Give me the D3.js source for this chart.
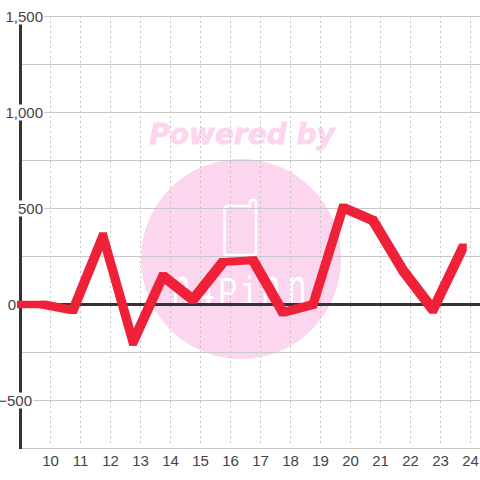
<!DOCTYPE html>
<meta charset="utf-8">
<style>
  body { margin: 0; background: #fff; }
  text { font-family: "Liberation Sans", sans-serif; }
  .label { font-size: 15px; fill: #444; }
  .grid-h { stroke: #c8c8c8; stroke-width: 1px; }
  .grid-v { stroke: #c4c4c4; stroke-width: 1px; stroke-dasharray: 2 3; }
  .axis-line { stroke: #333; stroke-width: 3px; fill: none; }
</style>
<svg width="480" height="480"></svg>
<script src="https://d3js.org/d3.v7.min.js"></script>
<script>

  var hours = [9, 9.75, 10.75, 11.75, 12.75, 13.75, 14.75, 15.75, 16.75, 17.75, 18.75, 19.75, 20.75, 21.75, 22.75, 23.75];
  var values = [0, 0, -30, 355, -195, 148, 25, 222, 230, -42, 0, 505, 438, 177, -27, 298];
  var xTicks = [10, 11, 12, 13, 14, 15, 16, 17, 18, 19, 20, 21, 22, 23, 24];
  var yGrid = [1500, 1250, 1000, 750, 500, 250, -250, -500, -750];
  var yLabels = [1500, 1000, 500, 0, -500];
  var logoGlyphs = ["n", "4", "P", "i", "n", "n"];

  var svg = d3.select("svg");

  var x = d3.scaleLinear().domain([9, 24]).range([20.5, 470.5]);
  var y = d3.scaleLinear().domain([1500, -750]).range([16.5, 448.5]);
  var fmt = d3.format(",");

  // watermark goes under everything
  var mark = svg.append("g");
  mark.append("circle").attr("cx", 241).attr("cy", 259).attr("r", 100).attr("fill", "#fcd5ee");
  mark.append("text")
    .attr("x", 242).attr("y", 144)
    .attr("text-anchor", "middle")
    .style("font", "italic bold 28px 'DejaVu Sans'")
    .attr("fill", "#fcd5ee")
    .attr("stroke", "#fcd5ee")
    .attr("stroke-width", 0.8)
    .text("Powered by");
  mark.append("path")
    .attr("d", "M224.5 253V210q0-4 4-4H250V202q0-2 3-2t3 2V253q0 2-3 2H227q-2.5 0-2.5-2Z")
    .attr("fill", "none").attr("stroke", "#fff").attr("stroke-width", 2.5);

  var logoX = [181, 205, 228, 249, 271, 297];
  mark.selectAll(".logo").data(logoGlyphs).enter().append("text")
    .attr("class", "logo")
    .attr("transform", function (d, i) {
      return "translate(" + logoX[i] + ",305) scale(1.1," + (d == "n" ? 1.8 : 1.35) + ")";
    })
    .attr("text-anchor", "middle")
    .style("font", "30px 'Liberation Mono'")
    .attr("fill", "#fff")
    .text(function (d) { return d; });

  svg.selectAll(".grid-v").data(xTicks).enter().append("line")
    .attr("class", "grid-v")
    .attr("x1", function (d) { return x(d); }).attr("x2", function (d) { return x(d); })
    .attr("y1", 16).attr("y2", 446);

  svg.selectAll(".grid-h").data(yGrid).enter().append("line")
    .attr("class", "grid-h")
    .attr("x1", 20).attr("x2", 480)
    .attr("y1", function (d) { return y(d); }).attr("y2", function (d) { return y(d); });

  svg.append("line").attr("class", "axis-line")
    .attr("x1", 20.5).attr("x2", 20.5).attr("y1", 24).attr("y2", 449);
  svg.append("line").attr("class", "axis-line")
    .attr("x1", 20).attr("x2", 480).attr("y1", y(0)).attr("y2", y(0));

  // labels sit on white boxes that cut the axis
  var labelRight = { "1500": 44, "1000": 44, "500": 44, "0": 17, "-500": 33 };
  var labels = svg.selectAll(".ylabel").data(yLabels).enter().append("g").attr("class", "ylabel");
  labels.append("rect")
    .attr("x", 0).attr("width", function (d) { return labelRight[d]; })
    .attr("y", function (d) { return y(d) - 8; }).attr("height", 16)
    .attr("fill", "#fff");
  labels.append("text")
    .attr("class", "label")
    .attr("text-anchor", "end")
    .attr("x", function (d) { return labelRight[d] - 1; })
    .attr("y", function (d) { return y(d) + 5; })
    .text(function (d) { return fmt(d); });

  svg.selectAll(".xlabel").data(xTicks).enter().append("text")
    .attr("class", "label xlabel")
    .attr("text-anchor", "middle")
    .attr("x", function (d) { return x(d); })
    .attr("y", 466)
    .text(function (d) { return d; });

  svg.append("defs").append("clipPath").attr("id", "plot")
    .append("rect").attr("x", 17).attr("y", 0).attr("width", 463).attr("height", 480);

  // the line looks drawn with a square pen: each segment is the hull of two squares
  var pen = 3.75;
  function corners(i) {
    var px = x(hours[i]), py = y(values[i]);
    return [[px - pen, py - pen], [px + pen, py - pen], [px + pen, py + pen], [px - pen, py + pen]];
  }

  var series = svg.append("g").attr("clip-path", "url(#plot)");
  series.selectAll("path").data(d3.pairs(d3.range(values.length))).enter().append("path")
    .attr("d", function (p) {
      return "M" + d3.polygonHull(corners(p[0]).concat(corners(p[1]))).join("L") + "Z";
    })
    .attr("fill", "#ef2138");

</script>
